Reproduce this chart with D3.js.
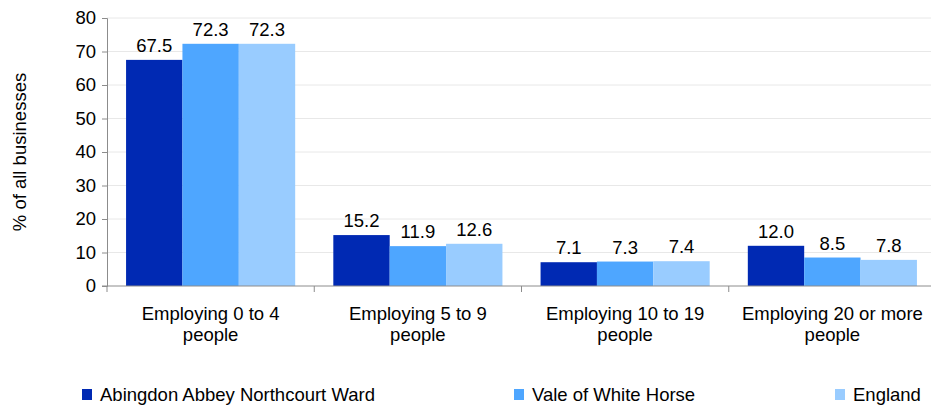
<!DOCTYPE html>
<html>
<head>
<meta charset="utf-8">
<script src="https://cdn.jsdelivr.net/npm/d3@7"></script>
<style>
  html, body { margin: 0; padding: 0; background: #fff; }
  svg { display: block; font-family: "Liberation Sans", Arial, sans-serif; }
</style>
</head>
<body>
<svg id="chart" width="931" height="405"></svg>
<script>
// Business size bands
const categories = [
  ["Employing 0 to 4", "people"],
  ["Employing 5 to 9", "people"],
  ["Employing 10 to 19", "people"],
  ["Employing 20 or more", "people"]
];
const seriesNames = ["Abingdon Abbey Northcourt Ward", "Vale of White Horse", "England"];
const abingdon = [67.5, 15.2, 7.1, 12.0];
const vale = [72.3, 11.9, 7.3, 8.5];
const england = [72.3, 12.6, 7.4, 7.8];
const yTicks = [0, 10, 20, 30, 40, 50, 60, 70, 80];
const colors = ["#0029b3", "#4ea6ff", "#99ccff"];

const FS = 18.5;
const series = [abingdon, vale, england];
const svg = d3.select("#chart");
const margin = { left: 107, top: 18, bottom: 119 };
const W = 931, H = 405;
const innerH = H - margin.top - margin.bottom;

const x0 = d3.scaleBand()
  .domain(d3.range(categories.length))
  .range([margin.left, 936])
  .paddingInner(0.184)
  .paddingOuter(0.092);
const step = x0.step();
const x1 = d3.scaleBand()
  .domain(d3.range(series.length))
  .range([0, x0.bandwidth()]);

const y = d3.scaleLinear().domain([0, 80]).range([margin.top + innerH, margin.top]);

// gridlines
svg.append("g")
  .selectAll("line")
  .data(yTicks.filter(t => t > 0))
  .join("line")
  .attr("x1", margin.left).attr("x2", W)
  .attr("y1", d => y(d)).attr("y2", d => y(d))
  .attr("stroke", "#e8e8e8").attr("stroke-width", 1);

// bars
const groups = svg.append("g")
  .selectAll("g")
  .data(categories.map((c, i) => i))
  .join("g")
  .attr("transform", i => `translate(${x0(i)},0)`);

groups.selectAll("rect")
  .data(i => series.map((s, k) => ({ k, v: s[i] })))
  .join("rect")
  .attr("x", d => x1(d.k))
  .attr("width", x1.bandwidth())
  .attr("y", d => y(d.v))
  .attr("height", d => y(0) - y(d.v))
  .attr("fill", d => colors[d.k]);

// value labels
groups.selectAll("text")
  .data(i => series.map((s, k) => ({ k, v: s[i] })))
  .join("text")
  .attr("x", d => x1(d.k) + x1.bandwidth() / 2)
  .attr("y", d => y(d.v) - 8)
  .attr("text-anchor", "middle")
  .attr("font-size", FS)
  .attr("fill", "#000")
  .text(d => d.v.toFixed(1));

// y axis
const yAxis = d3.axisLeft(y).tickValues(yTicks).tickSize(5).tickPadding(6);
const gy = svg.append("g")
  .attr("transform", `translate(${margin.left},0)`)
  .call(yAxis);
gy.select(".domain").attr("stroke", "#8c8c8c");
gy.selectAll(".tick line").attr("stroke", "#8c8c8c");
gy.selectAll(".tick text").attr("font-size", FS).attr("fill", "#000").attr("font-family", "Liberation Sans, Arial, sans-serif");

// x axis line with category boundary ticks
const baseY = y(0);
svg.append("line")
  .attr("x1", margin.left - 5).attr("x2", W)
  .attr("y1", baseY).attr("y2", baseY)
  .attr("stroke", "#8c8c8c");
const bounds = d3.range(categories.length + 1).map(i => margin.left + i * step);
svg.append("g").selectAll("line")
  .data(bounds)
  .join("line")
  .attr("x1", d => d).attr("x2", d => d)
  .attr("y1", baseY).attr("y2", baseY + 6)
  .attr("stroke", "#8c8c8c");

// category labels
const cat = svg.append("g")
  .selectAll("text")
  .data(categories.map((c, i) => ({ c, i })))
  .join("text")
  .attr("text-anchor", "middle")
  .attr("font-size", FS)
  .attr("fill", "#000");
cat.each(function (d) {
  const cx = x0(d.i) + x0.bandwidth() / 2;
  d3.select(this).selectAll("tspan")
    .data(d.c)
    .join("tspan")
    .attr("x", cx)
    .attr("y", (t, j) => 320 + j * 21)
    .text(t => t);
});

// y axis title
svg.append("text")
  .attr("transform", `translate(26,${(y(0) + y(80)) / 2}) rotate(-90)`)
  .attr("text-anchor", "middle")
  .attr("font-size", FS)
  .attr("fill", "#000")
  .text("% of all businesses");

// legend
const legendX = [82, 514, 835];
const lg = svg.append("g")
  .selectAll("g")
  .data(seriesNames.map((n, k) => ({ n, k })))
  .join("g")
  .attr("transform", d => `translate(${legendX[d.k]},395)`);
lg.append("rect")
  .attr("x", 0).attr("y", -6)
  .attr("width", 10).attr("height", 11)
  .attr("fill", d => colors[d.k]);
lg.append("text")
  .attr("x", 18).attr("y", 6)
  .attr("font-size", FS)
  .attr("fill", "#000")
  .text(d => d.n);
</script>
</body>
</html>
